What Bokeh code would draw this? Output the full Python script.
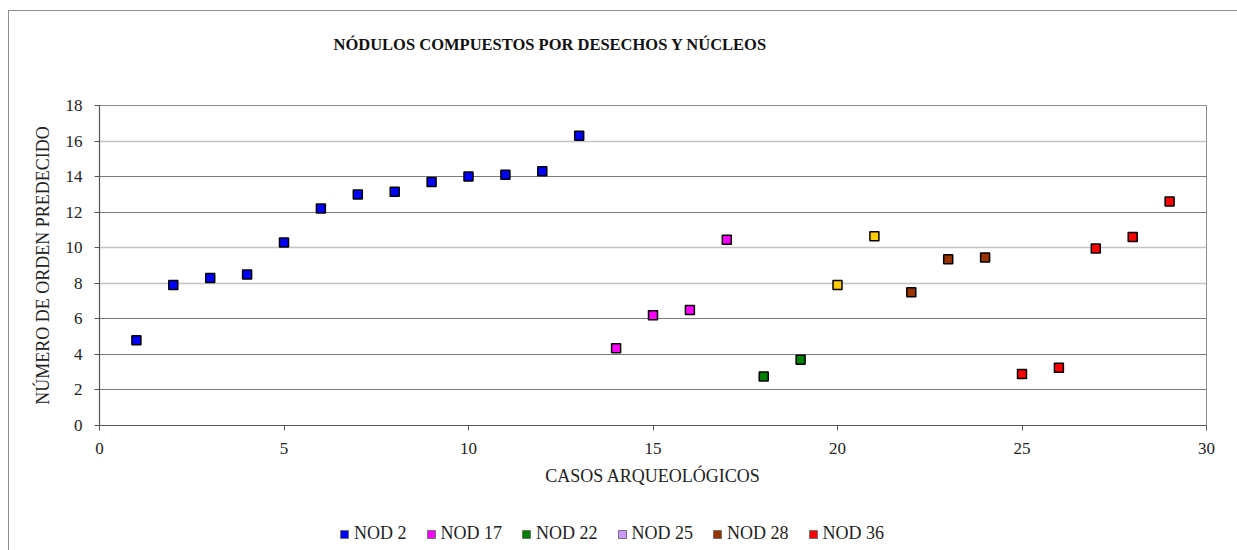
from bokeh.plotting import figure
from bokeh.layouts import column
from bokeh.models import Range1d, FixedTicker, Grid, Legend, LegendItem, Title
from bokeh.embed import file_html
from bokeh.resources import INLINE

# ---- data ----
nod2_x = [1, 2, 3, 4, 5, 6, 7, 8, 9, 10, 11, 12, 13]
nod2_y = [4.8, 7.9, 8.3, 8.5, 10.3, 12.2, 13.0, 13.15, 13.7, 14.0, 14.1, 14.3, 16.3]
nod17_x = [14, 15, 16, 17]
nod17_y = [4.35, 6.2, 6.5, 10.45]
nod22_x = [18, 19]
nod22_y = [2.75, 3.7]
nod25_x = [20, 21]
nod25_y = [7.9, 10.65]
nod28_x = [22, 23, 24]
nod28_y = [7.5, 9.35, 9.45]
nod36_x = [25, 26, 27, 28, 29]
nod36_y = [2.9, 3.25, 9.95, 10.6, 12.6]

series_names = ["NOD 2", "NOD 17", "NOD 22", "NOD 25", "NOD 28", "NOD 36"]
point_colors = ["#0000FF", "#FF00FF", "#008000", "#FFCC00", "#993300", "#FF0000"]
legend_colors = ["#0000FF", "#FF00FF", "#008000", "#CC99FF", "#993300", "#FF0000"]

y_ticks = [0, 2, 4, 6, 8, 10, 12, 14, 16, 18]
x_ticks = [0, 5, 10, 15, 20, 25, 30]
dark_grid = [2, 4, 6, 12, 14, 18]
light_grid = [8, 10, 16]

title_text = "NÓDULOS COMPUESTOS POR DESECHOS Y NÚCLEOS"
x_title = "CASOS ARQUEOLÓGICOS"
y_title = "NÚMERO DE ORDEN PREDECIDO"

FONT = "Liberation Serif"

W = 1228
H1, H2 = 500, 39
p = figure(width=W, height=H1, output_backend="svg", toolbar_location=None,
           x_range=Range1d(0, 30), y_range=Range1d(0, 18),
           min_border_left=90, min_border_right=31, min_border_top=94,
           min_border_bottom=86)
p.background_fill_color = "white"
p.border_fill_color = "white"
p.outline_line_color = "#8c8c8c"
p.outline_line_width = 1

# grids
p.xgrid.visible = False
p.ygrid.visible = False
p.add_layout(Grid(dimension=1, ticker=FixedTicker(ticks=light_grid),
                  grid_line_color="#c4c4c4", grid_line_width=1.5))
p.add_layout(Grid(dimension=1, ticker=FixedTicker(ticks=dark_grid),
                  grid_line_color="#7a7a7a", grid_line_width=1.2))

# axes
p.xaxis.ticker = FixedTicker(ticks=x_ticks)
p.yaxis.ticker = FixedTicker(ticks=y_ticks)
for ax in (p.xaxis[0], p.yaxis[0]):
    ax.axis_line_color = "#555555"
    ax.axis_line_width = 1.2
    ax.major_tick_line_color = "#555555"
    ax.major_tick_out = 5
    ax.major_tick_in = 0
    ax.minor_tick_line_color = None
    ax.major_label_text_font = FONT
    ax.major_label_text_font_size = "17px"
    ax.major_label_text_color = "#222222"
    ax.axis_label_text_font = FONT
    ax.axis_label_text_font_size = "18px"
    ax.axis_label_text_font_style = "normal"
    ax.axis_label_text_color = "#222222"
p.xaxis.axis_label = x_title
p.yaxis.axis_label = y_title
p.yaxis.major_label_standoff = 12
p.xaxis.major_label_standoff = 12
p.yaxis.axis_label_standoff = 10
p.xaxis.axis_label_standoff = 9

# points
xs = [nod2_x, nod17_x, nod22_x, nod25_x, nod28_x, nod36_x]
ys = [nod2_y, nod17_y, nod22_y, nod25_y, nod28_y, nod36_y]
for x, y, c in zip(xs, ys, point_colors):
    p.scatter(x, y, marker="square", size=9, fill_color=c, line_color="black",
              line_width=1.5)

# title (with spacer between it and the frame)
p.add_layout(Title(text=" ", standoff=28, text_font_size="16px"), "above")
p.add_layout(Title(text=title_text, align="left", offset=234, standoff=10,
                   text_font=FONT, text_font_size="16.5px", text_font_style="bold",
                   text_color="#111111"), "above")

# legend strip (separate small figure under the chart)
lg = figure(width=W, height=H2, output_backend="svg", toolbar_location=None,
            x_range=Range1d(0, 1), y_range=Range1d(0, 1),
            min_border=0, min_border_left=0, min_border_right=0,
            min_border_top=0, min_border_bottom=0)
lg.axis.visible = False
lg.grid.visible = False
lg.outline_line_color = None
lg.background_fill_color = "white"
lg.border_fill_color = "white"
items = []
for name, c in zip(series_names, legend_colors):
    r = lg.scatter([-5], [-5], marker="square", size=8, fill_color=c,
                   line_color="#707070", line_width=1)
    items.append(LegendItem(label=name, renderers=[r]))
legend = Legend(items=items, orientation="horizontal", location=(235, 6),
                glyph_width=20, glyph_height=20, label_standoff=0, spacing=14,
                padding=0, margin=0, border_line_alpha=0, background_fill_alpha=0,
                label_text_font=FONT, label_text_font_size="18px",
                label_text_color="#222222", label_height=20)
lg.add_layout(legend, "center")

layout = column(p, lg, spacing=0)
layout.styles = {"border-left": "1px solid #8c8c8c", "border-top": "1px solid #8c8c8c",
                 "margin-top": "10px", "margin-left": "8px"}

open("out.html", "w").write(file_html(layout, INLINE))
